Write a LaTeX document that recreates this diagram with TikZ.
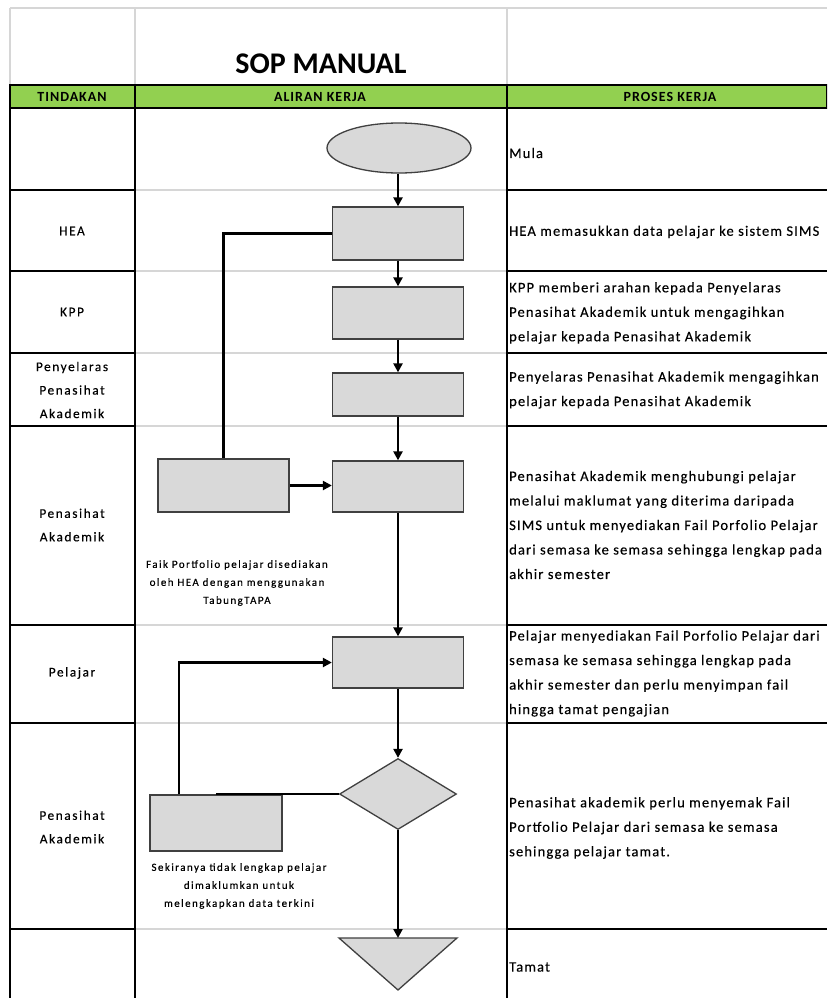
\documentclass[tikz,border=0pt]{standalone}
\usepackage{fontspec}
\setmainfont{Carlito}
\newfontfamily\rtf[LetterSpace=8,FakeBold=0.3]{Carlito}
\newfontfamily\ltf[LetterSpace=12,FakeBold=0.3]{Carlito}
\newfontfamily\ntf[LetterSpace=13,FakeBold=0.3]{Carlito}
\newfontfamily\hdf[LetterSpace=7]{Carlito}
\usetikzlibrary{shapes.geometric,arrows.meta}
\definecolor{hdrgreen}{HTML}{92D050}
\definecolor{shapefill}{HTML}{D9D9D9}
\definecolor{shapeedge}{HTML}{404040}
\definecolor{gridgray}{HTML}{D6D6D6}
\tikzset{
  gridline/.style={draw=gridgray, line width=1.2pt},
  cellline/.style={draw=black, line width=1.4pt},
  shp/.style={draw=shapeedge, fill=shapefill, line width=1.3pt, inner sep=0pt},
  procbox/.style={shp, rectangle, minimum width=131pt, minimum height=52pt},
  conn/.style={draw=black, line width=2.3pt},
  arr/.style={conn, -{Triangle[length=9pt,width=9pt]}},
  rtext/.style={anchor=west, align=left, inner sep=0pt, font=\rtf\fontsize{14.5}{24.5}\selectfont},
  ltext/.style={align=center, inner sep=0pt, font=\ltf\fontsize{13.3}{23.5}\selectfont},
  ntext/.style={align=center, inner sep=0pt, font=\ntf\fontsize{11}{18}\selectfont},
  htext/.style={inner sep=0pt, font=\hdf\bfseries\fontsize{14}{14}\selectfont}
}
\begin{document}
\begin{tikzpicture}[x=1pt,y=-1pt]
\useasboundingbox (0,0) rectangle (827,998);
\clip (0,0) rectangle (827,998);
\fill[white] (0,0) rectangle (827,998);
% title area grid
\draw[gridline] (10,8) -- (827,8);
\draw[gridline] (10,8) -- (10,85);
\draw[gridline] (135,8) -- (135,85);
\draw[gridline] (507,8) -- (507,85);
\node[inner sep=0pt, font=\bfseries\fontsize{30}{30}\selectfont] (title) at (321,64) {SOP MANUAL};
% header row
\draw[cellline, fill=hdrgreen, line width=1.8pt] (10,85) rectangle (827,108);
\node[htext] (h1) at (72,97) {TINDAKAN};
\node[htext] (h2) at (320,97) {ALIRAN KERJA};
\node[htext] (h3) at (670,97) {PROSES KERJA};
% row lines
\foreach \yy in {190,271,353,426,625,723,929}{
  \draw[gridline] (135,\yy) -- (507,\yy);
  \draw[cellline] (10,\yy) -- (135,\yy);
  \draw[cellline] (507,\yy) -- (827,\yy);
}
% verticals
\draw[cellline] (10,85) -- (10,998);
\draw[cellline] (135,85) -- (135,998);
\draw[cellline] (507,85) -- (507,998);
\draw[cellline, line width=1.8pt] (10,85) -- (827,85);
\draw[cellline, line width=1.8pt] (10,108) -- (827,108);
% left column texts
\node[ltext] (l2) at (72,231) {HEA};
\node[ltext] (l3) at (72,312) {KPP};
\node[ltext] (l4) at (72,390) {Penyelaras\\Penasihat\\Akademik};
\node[ltext] (l5) at (72,525) {Penasihat\\Akademik};
\node[ltext] (l6) at (72,673) {Pelajar};
\node[ltext] (l7) at (72,827) {Penasihat\\Akademik};
% right column texts
\node[rtext] (r1) at (509,153) {Mula};
\node[rtext] (r2) at (509,232) {HEA memasukkan data pelajar ke sistem SIMS};
\node[rtext] (r3) at (509,313) {KPP memberi arahan kepada Penyelaras\\Penasihat Akademik untuk mengagihkan\\pelajar kepada Penasihat Akademik};
\node[rtext] (r4) at (509,390) {Penyelaras Penasihat Akademik mengagihkan\\pelajar kepada Penasihat Akademik};
\node[rtext] (r5) at (509,525) {Penasihat Akademik menghubungi pelajar\\melalui maklumat yang diterima daripada\\SIMS untuk menyediakan Fail Porfolio Pelajar\\dari semasa ke semasa sehingga lengkap pada\\akhir semester};
\node[rtext] (r6) at (509,673.5) {Pelajar menyediakan Fail Porfolio Pelajar dari\\semasa ke semasa sehingga lengkap pada\\akhir semester dan perlu menyimpan fail\\hingga tamat pengajian};
\node[rtext] (r7) at (509,828) {Penasihat akademik perlu menyemak Fail\\Portfolio Pelajar dari semasa ke semasa\\sehingga pelajar tamat.};
\node[rtext] (r8) at (509,967) {Tamat};
% flow shapes
\node[shp, ellipse, minimum width=144pt, minimum height=50pt] (start) at (399,148) {};
\node[procbox, minimum height=53pt] (b1) at (398,233.5) {};
\node[procbox] (b2) at (398,313) {};
\node[procbox, minimum height=43pt] (b3) at (398,394.5) {};
\node[procbox, minimum height=53pt] (b4) at (223.5,485.5) {};
\node[procbox, minimum height=51pt] (b5) at (398,486.5) {};
\node[procbox, minimum height=51pt] (b6) at (398,662.5) {};
\node[shp, diamond, minimum width=117pt, minimum height=71pt] (dec) at (398,794) {};
\node[procbox, minimum width=132pt, minimum height=56pt] (b7) at (216,823) {};
\draw[shp] (339,938) -- (457,938) -- (398,990) -- cycle;
\coordinate (endtop) at (398,938);
% notes
\node[ntext] (n1) at (237,583) {Faik Portfolio pelajar disediakan\\oleh HEA dengan menggunakan\\TabungTAPA};
\node[ntext] (n2) at (239,886) {Sekiranya tidak lengkap pelajar\\dimaklumkan untuk\\melengkapkan data terkini};
% connectors
\draw[arr] (start.south -| b1.north) -- (b1.north);
\draw[arr] (b1.south) -- (b2.north);
\draw[arr] (b2.south) -- (b3.north);
\draw[arr] (b3.south) -- (b5.north);
\draw[conn] (b1.west) -| (b4.north);
\draw[arr] (b4.east) -- (b4.east -| b5.west);
\draw[arr] (b5.south) -- (b6.north);
\draw[arr] (b6.south) -- (dec.north);
\draw[conn] (dec.west) -- (dec.west -| b7.north);
\draw[arr] ([xshift=-37pt]b7.north) |- (b6.west);
\draw[arr] (dec.south) -- (endtop);
\end{tikzpicture}
\end{document}
